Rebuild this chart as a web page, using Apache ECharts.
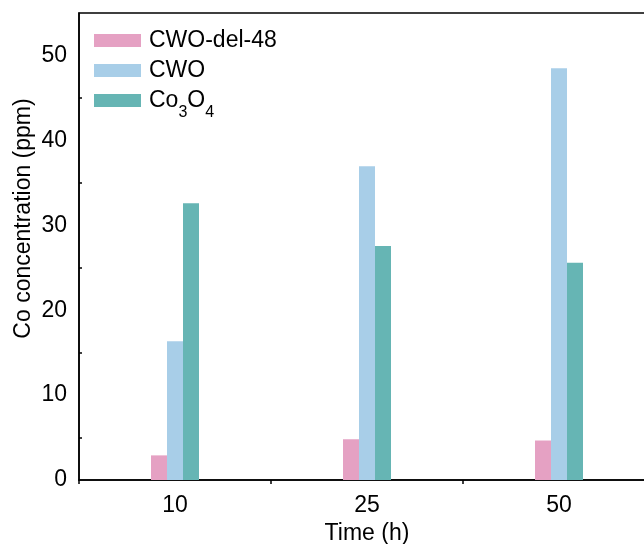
<!DOCTYPE html>
<html>
<head>
<meta charset="utf-8">
<script src="https://cdn.jsdelivr.net/npm/echarts@6/dist/echarts.min.js"></script>
<style>
  html, body { margin: 0; padding: 0; background: #fff; }
  #chart { width: 644px; height: 544px; }
</style>
</head>
<body>
<div id="chart"></div>
<script>
// Co leaching over time for three catalysts
const categories = ['10', '25', '50'];
const seriesNames = ['CWO-del-48', 'CWO', 'Co3O4'];
const cwoDel48 = [2.9, 4.8, 4.65];
const cwo = [16.35, 36.95, 48.5];
const co3o4 = [32.6, 27.55, 25.6];
const yTicks = [0, 10, 20, 30, 40, 50];

const colors = ['#E5A1C3', '#A8CEE8', '#66B5B4'];
const FONT = 'Liberation Sans, Arial, sans-serif';

const chart = echarts.init(document.getElementById('chart'), null, { renderer: 'canvas' });

function legendLabel(name) {
  if (name === 'Co3O4') return '{n|Co}{s|3}{n|O}{s|4}';
  return '{n|' + name + '}';
}

const values = [cwoDel48, cwo, co3o4];

chart.setOption({
  animation: false,
  backgroundColor: '#fff',
  grid: {
    left: 79, top: 13, bottom: 64, width: 576,
    outerBoundsMode: 'none',
    containLabel: false,
    show: true, borderColor: '#000', borderWidth: 1.5, backgroundColor: 'transparent'
  },
  legend: {
    orient: 'vertical',
    left: 89, top: 24,
    itemWidth: 47, itemHeight: 13, itemGap: 7,
    icon: 'rect',
    formatter: legendLabel,
    textStyle: {
      fontFamily: FONT, fontSize: 23, color: '#000', padding: [0, 0, 0, 3],
      rich: {
        n: { fontFamily: FONT, fontSize: 23, color: '#000', lineHeight: 24 },
        s: { fontFamily: FONT, fontSize: 16, color: '#000', lineHeight: 24, verticalAlign: 'bottom', padding: [0, 0, -8, 0] }
      }
    },
    data: seriesNames
  },
  xAxis: [
    {
      type: 'category',
      data: categories,
      position: 'bottom',
      name: 'Time (h)',
      nameLocation: 'middle',
      nameGap: 42,
      nameMoveOverlap: false,
      nameTextStyle: { fontFamily: FONT, fontSize: 23, color: '#000' },
      axisLine: { lineStyle: { color: '#000', width: 1.5 } },
      axisTick: { alignWithLabel: true, length: 8, lineStyle: { color: '#000', width: 1.5 } },
      axisLabel: { fontFamily: FONT, fontSize: 23, color: '#000', margin: 14 },
      splitLine: { show: false }
    },
    {
      type: 'category',
      data: categories,
      position: 'bottom',
      axisLine: { show: false },
      axisTick: { show: true, length: 4, interval: 0, lineStyle: { color: '#000', width: 1.5 } },
      axisLabel: { show: false },
      splitLine: { show: false }
    }
  ],
  yAxis: {
    type: 'value',
    min: 0, max: 55, interval: 10,
    name: 'Co concentration (ppm)',
    nameLocation: 'middle',
    nameGap: 44,
    nameMoveOverlap: false,
    nameTextStyle: { fontFamily: FONT, fontSize: 23, color: '#000', padding: [0, 0, 0, 56] },
    axisLine: { show: true, lineStyle: { color: '#000', width: 1.5 } },
    axisTick: { inside: true, length: 6, lineStyle: { color: '#000', width: 1.5 } },
    minorTick: { show: true, splitNumber: 2, length: 3, lineStyle: { color: '#000', width: 1.5 } },
    axisLabel: {
      fontFamily: FONT, fontSize: 23, color: '#000', margin: 12,
      formatter: v => (yTicks.includes(v) ? String(v) : '')
    },
    splitLine: { show: false }
  },
  series: seriesNames.map((name, i) => ({
    name: name,
    type: 'bar',
    xAxisIndex: 0,
    barWidth: 16,
    barGap: '0%',
    itemStyle: { color: colors[i] },
    data: values[i]
  }))
});
</script>
</body>
</html>
